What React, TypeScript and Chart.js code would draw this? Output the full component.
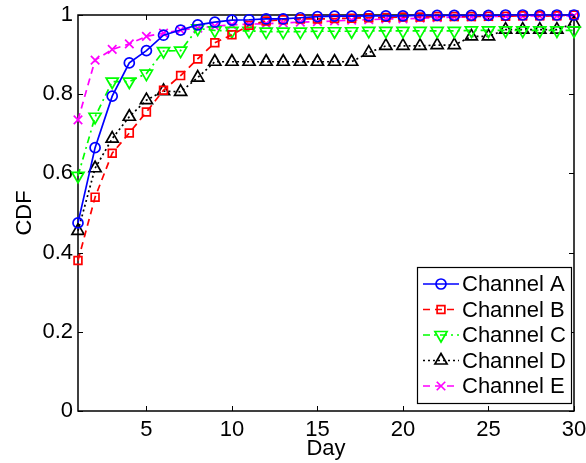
import React, { useEffect, useRef } from 'react';
import { Chart, registerables } from 'chart.js';
import { drawPoint } from 'chart.js/helpers';

Chart.register(...registerables);

const DAYS = [1, 2, 3, 4, 5, 6, 7, 8, 9, 10, 11, 12, 13, 14, 15, 16, 17, 18, 19, 20, 21, 22, 23, 24, 25, 26, 27, 28, 29, 30];
const CHANNEL_A = [0.475, 0.665, 0.795, 0.879, 0.91, 0.949, 0.962, 0.975, 0.982, 0.987, 0.988, 0.99, 0.99, 0.993, 0.996, 0.997, 0.997, 0.998, 0.998, 0.998, 0.999, 0.999, 0.999, 0.999, 0.999, 1, 1, 1, 1, 1];
const CHANNEL_B = [0.38, 0.54, 0.651, 0.702, 0.755, 0.81, 0.847, 0.889, 0.93, 0.95, 0.974, 0.985, 0.988, 0.99, 0.99, 0.991, 0.992, 0.993, 0.994, 0.995, 0.995, 0.996, 0.996, 0.996, 0.997, 0.997, 0.998, 0.998, 0.998, 1];
const CHANNEL_C = [0.594, 0.743, 0.832, 0.832, 0.852, 0.909, 0.91, 0.966, 0.961, 0.96, 0.96, 0.958, 0.958, 0.958, 0.959, 0.959, 0.959, 0.96, 0.96, 0.96, 0.96, 0.96, 0.96, 0.961, 0.961, 0.961, 0.961, 0.961, 0.961, 0.961];
const CHANNEL_D = [0.455, 0.613, 0.688, 0.743, 0.785, 0.808, 0.806, 0.842, 0.882, 0.882, 0.882, 0.882, 0.882, 0.882, 0.882, 0.882, 0.882, 0.905, 0.922, 0.922, 0.922, 0.924, 0.924, 0.946, 0.946, 0.963, 0.963, 0.963, 0.963, 0.979];
const CHANNEL_E = [0.735, 0.886, 0.913, 0.927, 0.946, 0.954, 0.962, 0.967, 0.972, 0.975, 0.977, 0.978, 0.98, 0.982, 0.983, 0.985, 0.987, 0.988, 0.99, 0.99, 0.992, 0.993, 0.995, 0.995, 0.996, 0.997, 0.997, 0.998, 0.998, 0.998];

const SERIES_NAMES = ['Channel A', 'Channel B', 'Channel C', 'Channel D', 'Channel E'];
const X_TICKS = [5, 10, 15, 20, 25, 30];
const X_TICK_LABELS = ['5', '10', '15', '20', '25', '30'];
const Y_TICKS = [0, 0.2, 0.4, 0.6, 0.8, 1];
const Y_TICK_LABELS = ['0', '0.2', '0.4', '0.6', '0.8', '1'];
const X_TITLE = 'Day';
const Y_TITLE = 'CDF';

const FONT_FAMILY = "'Liberation Sans', Arial, Helvetica, sans-serif";
const FONT = { family: FONT_FAMILY, size: 22 };

const framePlugin = {
  id: 'frame',
  beforeDatasetsDraw(chart: any) {
    const { ctx, chartArea, scales } = chart;
    const { left, right, top, bottom } = chartArea;
    const x = scales.x;
    const y = scales.y;
    ctx.save();
    ctx.setLineDash([]);
    ctx.strokeStyle = '#000';
    ctx.lineWidth = 1.5;
    ctx.strokeRect(left, top, right - left, bottom - top);
    ctx.lineWidth = 1;
    const L = 5;
    ctx.beginPath();
    for (const v of X_TICKS) {
      const px = Math.round(x.getPixelForValue(v)) + 0.5;
      ctx.moveTo(px, bottom);
      ctx.lineTo(px, bottom - L);
      ctx.moveTo(px, top);
      ctx.lineTo(px, top + L);
    }
    for (const v of Y_TICKS) {
      const py = Math.round(y.getPixelForValue(v)) + 0.5;
      ctx.moveTo(left, py);
      ctx.lineTo(left + L, py);
      ctx.moveTo(right, py);
      ctx.lineTo(right - L, py);
    }
    ctx.stroke();
    ctx.restore();
  },
};

const legendPlugin = {
  id: 'boxLegend',
  afterDraw(chart: any) {
    const { ctx } = chart;
    const bx = 417;
    const by = 267;
    const bw = 154;
    const bh = 136;
    ctx.save();
    ctx.fillStyle = '#fff';
    ctx.fillRect(bx, by, bw, bh);
    ctx.strokeStyle = '#000';
    ctx.lineWidth = 1.2;
    ctx.setLineDash([]);
    ctx.strokeRect(bx + 0.5, by + 0.5, bw, bh);
    chart.data.datasets.forEach((ds: any, i: number) => {
      const cy = by + 17 + i * 25.5;
      ctx.save();
      ctx.strokeStyle = ds.borderColor;
      ctx.lineWidth = ds.borderWidth;
      ctx.setLineDash(ds.borderDash || []);
      ctx.beginPath();
      ctx.moveTo(bx + 6, cy);
      ctx.lineTo(bx + 42, cy);
      ctx.stroke();
      ctx.setLineDash([]);
      ctx.lineWidth = ds.pointBorderWidth;
      ctx.fillStyle = 'rgba(0,0,0,0)';
      drawPoint(ctx, {
        pointStyle: ds.pointStyle,
        rotation: ds.pointRotation || 0,
        radius: ds.pointRadius,
        borderWidth: ds.pointBorderWidth,
      } as any, bx + 24, cy);
      ctx.restore();
      ctx.fillStyle = '#000';
      ctx.font = `22px ${FONT_FAMILY}`;
      ctx.textAlign = 'left';
      ctx.textBaseline = 'middle';
      ctx.fillText(SERIES_NAMES[i], bx + 45, cy + 1);
    });
    ctx.restore();
  },
};

function makeDataset(label: string, values: number[], color: string, dash: number[], style: string, radius: number, rotation = 0) {
  return {
    label,
    data: values,
    borderColor: color,
    backgroundColor: color,
    borderWidth: 1.7,
    borderDash: dash,
    pointStyle: style,
    pointRadius: radius,
    pointRotation: rotation,
    pointBorderWidth: 1.7,
    pointBorderColor: color,
    pointBackgroundColor: 'rgba(0,0,0,0)',
    pointHoverRadius: radius,
    fill: false,
    tension: 0,
    clip: false as any,
  };
}

export default function App() {
  const ref = useRef<HTMLCanvasElement | null>(null);
  useEffect(() => {
    if (!ref.current) return;
    const chart = new Chart(ref.current, {
      type: 'line',
      data: {
        labels: DAYS,
        datasets: [
          makeDataset(SERIES_NAMES[0], CHANNEL_A, '#0000ff', [], 'circle', 5),
          makeDataset(SERIES_NAMES[1], CHANNEL_B, '#ff0000', [7, 5], 'rect', 5.5),
          makeDataset(SERIES_NAMES[2], CHANNEL_C, '#00ff00', [7, 4, 2, 4], 'triangle', 7, 180),
          makeDataset(SERIES_NAMES[3], CHANNEL_D, '#000000', [2, 3], 'triangle', 7),
          makeDataset(SERIES_NAMES[4], CHANNEL_E, '#ff00ff', [7, 5], 'crossRot', 6),
        ] as any,
      },
      options: {
        responsive: false,
        animation: false,
        devicePixelRatio: 1,
        parsing: true,
        layout: { padding: { top: 15, right: 12, left: 0, bottom: 0 } },
        plugins: { legend: { display: false }, tooltip: { enabled: false } },
        scales: {
          x: {
            type: 'linear',
            min: 1,
            max: 30,
            grid: { display: false, drawTicks: false },
            border: { display: false },
            afterBuildTicks: (s: any) => {
              s.ticks = X_TICKS.map((v) => ({ value: v }));
            },
            afterFit: (s: any) => {
              s.height = 52;
              s.paddingLeft = 0;
              s.paddingRight = 0;
            },
            ticks: {
              autoSkip: false,
              maxRotation: 0,
              padding: 6,
              color: '#000',
              font: FONT,
              callback: (v: any) => {
                const i = X_TICKS.indexOf(Number(v));
                return i >= 0 ? X_TICK_LABELS[i] : '';
              },
            },
            title: { display: true, text: X_TITLE, color: '#000', font: FONT, padding: { top: 0, bottom: 1 } },
          },
          y: {
            type: 'linear',
            min: 0,
            max: 1,
            grid: { display: false, drawTicks: false },
            border: { display: false },
            afterBuildTicks: (s: any) => {
              s.ticks = Y_TICKS.map((v) => ({ value: v }));
            },
            afterFit: (s: any) => {
              s.width = 78;
              s.paddingTop = 0;
              s.paddingBottom = 0;
            },
            ticks: {
              autoSkip: false,
              padding: 5,
              color: '#000',
              font: FONT,
              callback: (v: any) => {
                const i = Y_TICKS.findIndex((t) => Math.abs(t - Number(v)) < 1e-9);
                return i >= 0 ? Y_TICK_LABELS[i] : '';
              },
            },
            title: { display: true, text: Y_TITLE, color: '#000', font: FONT, padding: { top: 12, bottom: 0 } },
          },
        },
      } as any,
      plugins: [framePlugin, legendPlugin],
    });
    return () => chart.destroy();
  }, []);
  return (
    <div style={{ position: 'absolute', left: 0, top: 0, width: 586, height: 463, background: '#fff' }}>
      <canvas ref={ref} width={586} height={463} style={{ display: 'block', width: 586, height: 463 }} />
    </div>
  );
}
